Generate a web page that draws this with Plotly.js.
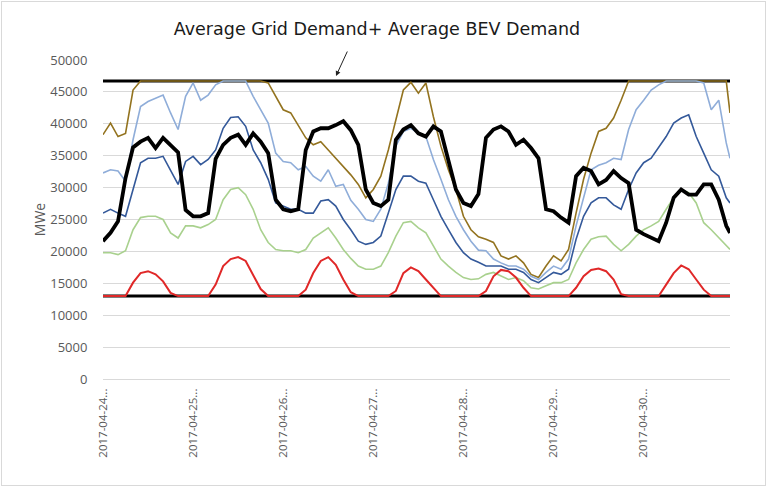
<!DOCTYPE html>
<html>
<head>
<meta charset="utf-8">
<script src="https://cdn.plot.ly/plotly-3.0.1.min.js"></script>
<style>
  html, body { margin: 0; padding: 0; background: #fff; }
  #frame { position: absolute; left: 1px; top: 1px; width: 763px; height: 483px; border: 1px solid #d9d9d9; }
  #chart { position: absolute; left: 0; top: 0; width: 767px; height: 487px; }
</style>
</head>
<body>
<div id="frame"></div>
<div id="chart"></div>
<script>
// Hour offsets from 2017-04-24 00:00 (every 2 hours, plus the last hour of the week)
const hours = [];
for (let i = 0; i < 84; i++) hours.push(2 * i);
hours.push(167);

const dayTicks = [0, 24, 48, 72, 96, 120, 144];
const dayLabels = ['2017-04-24...', '2017-04-25...', '2017-04-26...', '2017-04-27...',
                   '2017-04-28...', '2017-04-29...', '2017-04-30...'];

const gridPlusBev = 46700;   // Average Grid Demand + Average BEV Demand
const baseLevel = 13000;

const demand = [21600,22900,24700,31500,36300,37200,37800,36200,37800,36700,35500,26500,25500,25500,26000,34500,36700,
  37800,38300,36700,38500,37200,35400,28100,26600,26300,26600,35900,38800,39300,39300,39800,40400,
  39000,36700,29700,27600,27100,28100,37500,39100,39800,38500,38000,39600,38800,34400,29700,27600,27100,
  29000,37800,39100,39600,38800,36700,37500,36200,34600,26600,26300,25300,24500,31800,33100,32600,
  30500,31200,32600,31500,30700,23400,22700,22100,21600,24500,28400,29700,28900,28900,30500,30500,28100,24000,22900];

const brown = [38300,40100,38000,38500,45300,46700,46700,46700,46700,46700,46700,46700,46700,46700,46700,46700,46700,
  46700,46700,46700,46700,46700,46400,44300,42200,41700,39800,37800,36700,37200,35900,34600,33300,
  32000,30500,28400,29700,31800,35900,40600,45300,46500,44800,46400,41100,36500,32800,29700,25500,23400,
  22300,21900,21400,19300,18800,19300,18200,16400,15900,17700,19300,18500,20300,26000,31300,35400,
  38800,39300,40900,43700,46700,46700,46700,46700,46700,46700,46700,46700,46700,46700,46700,46700,46700,46700,41700];

const lightBlue = [32300,32800,32600,31000,37500,42700,43500,44000,44500,41700,39100,44300,46400,43700,44500,46100,46700,
  46700,46700,46700,44300,42200,40100,35400,34100,33900,32800,33300,31800,31000,32800,30200,30500,
  28000,26600,25000,24700,26600,30700,36500,38800,39300,38500,38000,34400,31300,28100,25500,23400,21600,
  20200,20100,18800,18200,17700,17700,17200,16100,15600,16700,17700,17200,18800,24000,28600,32800,
  33500,33900,34600,34400,39100,42200,43700,45300,46100,46700,46700,46700,46700,46700,46400,42200,43700,37000,34600];

const midBlue = [26000,26600,26000,25500,29700,33900,34600,34600,34900,32800,30500,34100,34900,33600,34400,35900,39300,
  41000,41100,39600,35900,33900,31300,27600,27100,26600,26600,26000,26000,27900,28100,27100,25000,
  23400,21600,21100,21400,22400,26000,29700,31800,31800,31000,30700,28100,25500,23400,21400,19800,18800,
  18300,17700,17700,17700,17200,17200,16700,15600,15100,15900,16700,16400,17200,21900,25500,27600,
  28400,28400,27300,26600,29700,32300,33900,34600,36200,38000,40100,40900,41400,38000,35400,32800,31800,28400,27600];

const green = [19800,19800,19500,20100,23400,25300,25500,25500,25000,22900,22100,24000,24000,23700,24200,25000,28100,
  29700,30000,28900,26600,23400,21400,20300,20100,20100,19800,20300,22100,22900,23700,22100,20300,
  18900,17700,17200,17200,17700,19800,22400,24500,24700,23700,22900,20800,18800,17700,16700,15900,15600,
  15700,16400,16700,16100,15600,15900,15400,14300,14100,14600,15100,15100,15600,18200,20300,21900,
  22300,22400,21100,20100,21100,22400,23400,24000,24700,26600,28400,29700,29200,27600,24500,23400,22100,20800,20300];

const red = [13000,13000,13000,13000,15100,16600,16900,16400,15300,13500,13000,13000,13000,13000,13000,14800,17700,
  18800,19100,18500,16400,14100,13000,13000,13000,13000,13000,14000,16600,18500,19100,17900,15600,
  13600,13000,13000,13000,13000,13000,13800,16600,17500,16900,15600,14300,13000,13000,13000,13000,13000,
  13000,13800,16100,17100,16900,15900,14300,13000,13000,13000,13000,13000,13000,14300,16100,17100,
  17300,16900,15600,13300,13000,13000,13000,13000,13000,14800,16600,17800,17200,15600,14000,13000,13000,13000,13000];

const ends = [hours[0], hours[hours.length - 1]];

const traces = [
  {x: ends, y: [gridPlusBev, gridPlusBev], line: {color: '#000000', width: 3}},
  {x: ends, y: [baseLevel, baseLevel], line: {color: '#000000', width: 3}},
  {x: hours, y: brown, line: {color: '#93731f', width: 1.6}},
  {x: hours, y: lightBlue, line: {color: '#8fadd9', width: 1.6}},
  {x: hours, y: midBlue, line: {color: '#34599a', width: 1.6}},
  {x: hours, y: green, line: {color: '#a9d18e', width: 1.6}},
  {x: hours, y: red, line: {color: '#e02828', width: 2}},
  {x: hours, y: demand, line: {color: '#000000', width: 3.8}}
].map(t => Object.assign({type: 'scatter', mode: 'lines', hoverinfo: 'skip', showlegend: false}, t));

const layout = {
  width: 767, height: 487,
  margin: {l: 103, r: 37, t: 60, b: 108},
  paper_bgcolor: 'rgba(0,0,0,0)',
  plot_bgcolor: 'rgba(0,0,0,0)',
  showlegend: false,
  title: {
    text: 'Average Grid Demand+ Average BEV Demand',
    font: {family: 'DejaVu Sans', size: 17.5, color: '#1a1a1a'},
    x: 377 / 767, xanchor: 'center', xref: 'container',
    y: 1 - 29 / 487, yanchor: 'middle', yref: 'container'
  },
  xaxis: {
    range: [0, 167],
    tickmode: 'array', tickvals: dayTicks, ticktext: dayLabels,
    tickangle: -90,
    tickfont: {family: 'Open Sans', size: 11.5, color: '#595959'},
    showgrid: false, zeroline: false,
    showline: true, linecolor: '#d9d9d9', linewidth: 1,
    ticks: 'outside', ticklen: 4, tickcolor: 'rgba(0,0,0,0)'
  },
  yaxis: {
    range: [0, 50000], dtick: 5000, tick0: 0,
    tickformat: 'd',
    tickfont: {family: 'Open Sans', size: 13, color: '#595959'},
    gridcolor: '#d9d9d9', gridwidth: 1,
    zeroline: false, showline: false,
    ticks: 'outside', ticklen: 12, tickcolor: 'rgba(0,0,0,0)',
    title: {text: 'MWe', font: {family: 'Open Sans', size: 14, color: '#595959'}, standoff: 1}
  },
  annotations: [{
    xref: 'paper', yref: 'paper',
    x: (336 - 103) / 627, y: (379 - 76) / 319,
    text: '', showarrow: true,
    axref: 'pixel', ayref: 'pixel', ax: 12, ay: -26,
    arrowhead: 2, arrowsize: 1, arrowwidth: 1, arrowcolor: '#222'
  }]
};

Plotly.newPlot('chart', traces, layout, {displayModeBar: false, staticPlot: true});
</script>
</body>
</html>
